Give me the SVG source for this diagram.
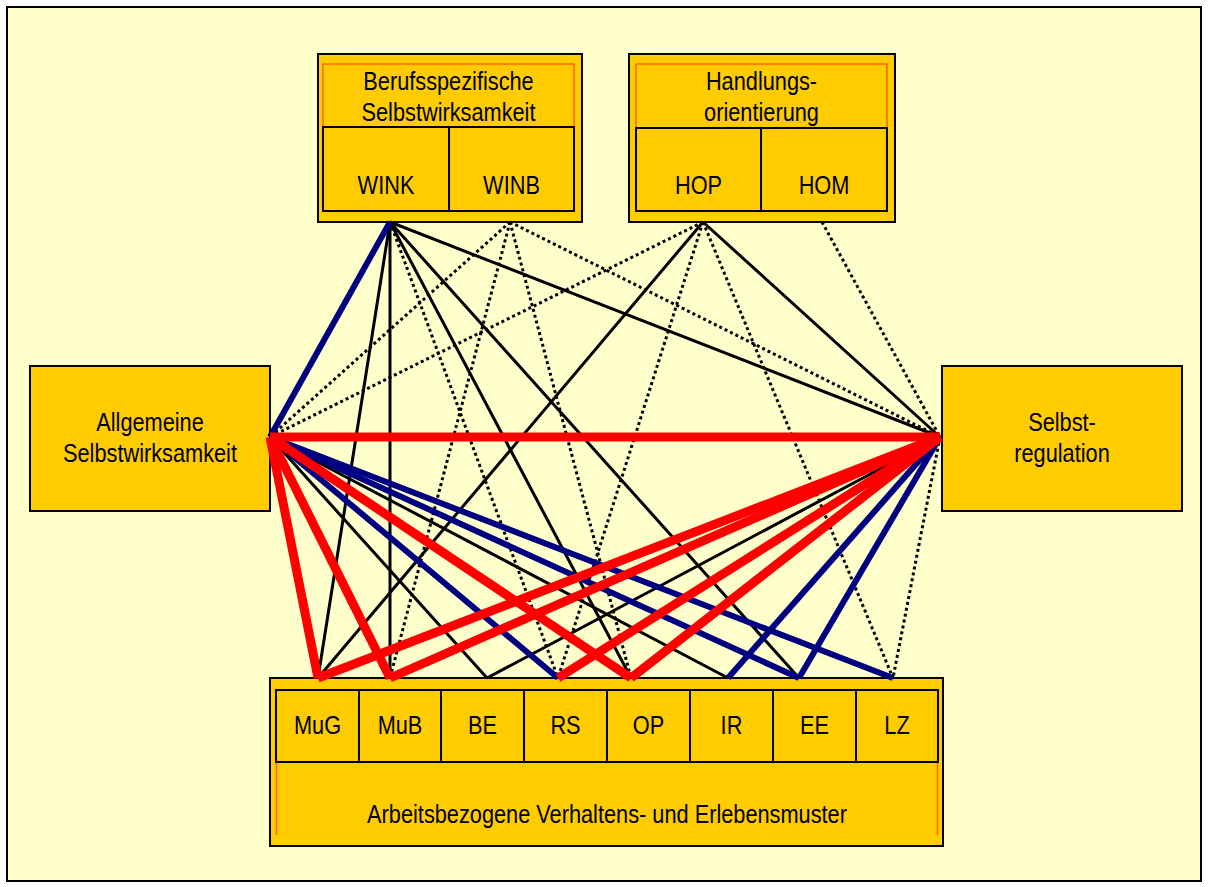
<svg xmlns="http://www.w3.org/2000/svg" width="1208" height="887" viewBox="0 0 1208 887">
<style>
.box{fill:#FFCC00;stroke:#000;stroke-width:2}
.cell{fill:#FFCC00;stroke:#000;stroke-width:2}
.or{fill:none;stroke:#FF6600;stroke-width:1.5}
.t{font-family:"Liberation Sans",Arial,sans-serif;font-size:25px;fill:#000;text-anchor:middle}
.dot{stroke:#000;stroke-width:3;stroke-dasharray:3 3;fill:none}
.blk{stroke:#000;stroke-width:3;fill:none}
.blu{stroke:#000080;stroke-width:6;fill:none}
.red{stroke:#FF0000;stroke-width:9;fill:none}
</style>
<rect x="0" y="0" width="1208" height="887" fill="#FFFFFF"/>
<rect x="7" y="7" width="1194" height="874" fill="#FFFFCC" stroke="#000" stroke-width="2"/>

<g id="berufsspezifische-selbstwirksamkeit">
<rect class="box" x="318" y="54" width="264" height="168"/>
<path class="or" d="M323,127 V64 H574 V127"/>
<text class="t" transform="translate(448.5,90) scale(0.87,1)">Berufsspezifische</text>
<text class="t" transform="translate(448.5,121) scale(0.87,1)">Selbstwirksamkeit</text>
<g id="wink"><rect class="cell" x="323" y="127" width="126" height="84"/>
<text class="t" transform="translate(386,194) scale(0.87,1)">WINK</text></g>
<g id="winb"><rect class="cell" x="449" y="127" width="125" height="84"/>
<text class="t" transform="translate(511.5,194) scale(0.87,1)">WINB</text></g>
</g>

<g id="handlungsorientierung">
<rect class="box" x="629" y="54" width="266" height="168"/>
<path class="or" d="M636,128 V64 H887 V128"/>
<text class="t" transform="translate(761.5,90) scale(0.87,1)">Handlungs-</text>
<text class="t" transform="translate(761.5,121) scale(0.87,1)">orientierung</text>
<g id="hop"><rect class="cell" x="636" y="128" width="125" height="83"/>
<text class="t" transform="translate(698.5,194) scale(0.87,1)">HOP</text></g>
<g id="hom"><rect class="cell" x="761" y="128" width="126" height="83"/>
<text class="t" transform="translate(824,194) scale(0.87,1)">HOM</text></g>
</g>

<g id="allgemeine-selbstwirksamkeit">
<rect class="box" x="30" y="366" width="240" height="145"/>
<text class="t" transform="translate(150,431) scale(0.87,1)">Allgemeine</text>
<text class="t" transform="translate(150,462) scale(0.87,1)">Selbstwirksamkeit</text>
</g>

<g id="selbstregulation">
<rect class="box" x="942" y="366" width="240" height="145"/>
<text class="t" transform="translate(1062,431) scale(0.87,1)">Selbst-</text>
<text class="t" transform="translate(1062,462) scale(0.87,1)">regulation</text>
</g>

<g id="avem">
<rect class="box" x="270" y="678" width="673" height="168"/>
<path class="or" d="M276.5,762 V835 M937.5,762 V835"/>
<text class="t" transform="translate(607,823) scale(0.87,1)">Arbeitsbezogene Verhaltens- und Erlebensmuster</text>
<g id="mug"><rect class="cell" x="276" y="690" width="83" height="72"/><text class="t" transform="translate(317.5,734) scale(0.87,1)">MuG</text></g>
<g id="mub"><rect class="cell" x="359" y="690" width="82" height="72"/><text class="t" transform="translate(400,734) scale(0.87,1)">MuB</text></g>
<g id="be"><rect class="cell" x="441" y="690" width="83" height="72"/><text class="t" transform="translate(482.5,734) scale(0.87,1)">BE</text></g>
<g id="rs"><rect class="cell" x="524" y="690" width="83" height="72"/><text class="t" transform="translate(565.5,734) scale(0.87,1)">RS</text></g>
<g id="op"><rect class="cell" x="607" y="690" width="83" height="72"/><text class="t" transform="translate(648.5,734) scale(0.87,1)">OP</text></g>
<g id="ir"><rect class="cell" x="690" y="690" width="83" height="72"/><text class="t" transform="translate(731.5,734) scale(0.87,1)">IR</text></g>
<g id="ee"><rect class="cell" x="773" y="690" width="83" height="72"/><text class="t" transform="translate(814.5,734) scale(0.87,1)">EE</text></g>
<g id="lz"><rect class="cell" x="856" y="690" width="82" height="72"/><text class="t" transform="translate(897,734) scale(0.87,1)">LZ</text></g>
</g>

<g id="connectors">
<g class="dot">
<line x1="510" y1="222" x2="270" y2="437"/>
<line x1="510" y1="222" x2="390" y2="678"/>
<line x1="510" y1="222" x2="631" y2="678"/>
<line x1="510" y1="222" x2="940" y2="437"/>
<line x1="703" y1="222" x2="270" y2="437"/>
<line x1="703" y1="222" x2="558" y2="678"/>
<line x1="703" y1="222" x2="893" y2="678"/>
<line x1="822" y1="222" x2="940" y2="437"/>
<line x1="390" y1="222" x2="558" y2="678"/>
<line x1="940" y1="437" x2="893" y2="678"/>
</g>
<g class="blk">
<line x1="390" y1="222" x2="318" y2="678"/>
<line x1="390" y1="222" x2="390" y2="678"/>
<line x1="390" y1="222" x2="631" y2="678"/>
<line x1="390" y1="222" x2="799" y2="678"/>
<line x1="390" y1="222" x2="940" y2="437"/>
<line x1="703" y1="222" x2="318" y2="678"/>
<line x1="703" y1="222" x2="940" y2="437"/>
<line x1="270" y1="437" x2="487" y2="678"/>
<line x1="270" y1="437" x2="728" y2="678"/>
<line x1="940" y1="437" x2="487" y2="678"/>
</g>
<g class="blu">
<line x1="390" y1="222" x2="270" y2="437"/>
<line x1="270" y1="437" x2="558" y2="678"/>
<line x1="270" y1="437" x2="799" y2="678"/>
<line x1="270" y1="437" x2="893" y2="678"/>
<line x1="940" y1="437" x2="728" y2="678"/>
<line x1="940" y1="437" x2="799" y2="678"/>
</g>
<g class="red">
<line x1="270" y1="437" x2="940" y2="437"/>
<line x1="270" y1="437" x2="318" y2="678"/>
<line x1="270" y1="437" x2="390" y2="678"/>
<line x1="270" y1="437" x2="631" y2="678"/>
<line x1="940" y1="437" x2="318" y2="678"/>
<line x1="940" y1="437" x2="390" y2="678"/>
<line x1="940" y1="437" x2="558" y2="678"/>
<line x1="940" y1="437" x2="631" y2="678"/>
</g>
</g>
</svg>
